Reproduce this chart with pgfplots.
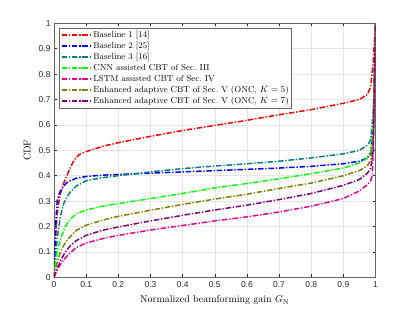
\documentclass[border=0pt]{standalone}
\usepackage{fontspec}
\usepackage{pgfplots}
\pgfplotsset{compat=1.18}
\newfontfamily\tickfont{Liberation Sans}
\definecolor{cteal}{rgb}{0,0.5,0.5}
\definecolor{colive}{rgb}{0.5,0.5,0}
\definecolor{cpurple}{rgb}{0.5,0,0.5}
\definecolor{axgray}{rgb}{0.15,0.15,0.15}
\tikzset{dd/.style={line width=1.5pt, dash pattern=on 5.5pt off 1.8pt on 1.3pt off 1.8pt}}
\begin{document}
\begin{tikzpicture}
\begin{axis}[
  name=ax,
  scale only axis,
  width=321.5bp, height=254bp,
  xmin=0, xmax=1, ymin=0, ymax=1,
  xtick={0,0.1,...,1.01}, ytick={0,0.1,...,1.01},
  xticklabels={0,0.1,0.2,0.3,0.4,0.5,0.6,0.7,0.8,0.9,1},
  yticklabels={0,0.1,0.2,0.3,0.4,0.5,0.6,0.7,0.8,0.9,1},
  ticklabel style={font=\tickfont\fontsize{8.5}{10}\selectfont, text=axgray},
  /pgf/number format/assume math mode=true,
  grid=major,
  major grid style={draw=black!10, line width=0.4pt},
  axis line style={draw=axgray!70, line width=0.5pt},
  tick style={draw=axgray, line width=0.5pt},
  tick align=inside,
  major tick length=3bp,
  xlabel={Normalized beamforming gain $G_{\mathrm{N}}$},
  ylabel={CDF},
  label style={font=\fontsize{10}{12}\selectfont},
  every axis x label/.style={at={(ticklabel cs:0.5)}, anchor=north, yshift=-1bp},
  every axis y label/.style={at={(ticklabel cs:0.5)}, anchor=south, rotate=90, yshift=1bp},
  xticklabel style={yshift=-1bp},
  legend style={at={(0.0155,0.9815)}, anchor=north west, draw=black!60,
    font=\fontsize{8.7}{10.3}\selectfont, inner xsep=1.5pt, inner ysep=1.5bp, row sep=0pt,
    nodes={inner sep=1bp, text height=6.8bp, text depth=2.2bp}},
  legend cell align=left,
  legend image code/.code={\draw[#1, line width=1.9bp, dash pattern=on 5.5pt off 1.8pt on 1.3pt off 1.8pt] (0cm,0cm) -- (1.05cm,0cm);},
  every axis plot/.append style={dd},
]
\addplot[draw=red] coordinates {(0,0) (0.004,0.12) (0.008,0.22) (0.013,0.28) (0.02,0.33) (0.03,0.37) (0.04,0.40) (0.05,0.43) (0.06,0.455) (0.07,0.473) (0.08,0.484) (0.1,0.495) (0.15,0.515) (0.2,0.53) (0.3,0.555) (0.4,0.578) (0.5,0.598) (0.6,0.618) (0.7,0.64) (0.8,0.66) (0.9,0.685) (0.95,0.70) (0.975,0.72) (0.985,0.75) (0.993,0.85) (1,1)};
\addlegendentry{Baseline 1 [14]}
\addplot[draw=blue] coordinates {(0,0) (0.003,0.12) (0.006,0.23) (0.01,0.30) (0.015,0.325) (0.02,0.34) (0.03,0.36) (0.04,0.372) (0.05,0.38) (0.07,0.39) (0.1,0.397) (0.15,0.402) (0.2,0.405) (0.3,0.41) (0.4,0.415) (0.5,0.42) (0.6,0.425) (0.7,0.43) (0.8,0.437) (0.9,0.447) (0.95,0.457) (0.975,0.47) (0.985,0.49) (0.993,0.6) (1,1)};
\addlegendentry{Baseline 2 [25]}
\addplot[draw=cteal] coordinates {(0,0) (0.005,0.08) (0.01,0.15) (0.015,0.2) (0.02,0.24) (0.03,0.29) (0.04,0.315) (0.05,0.335) (0.07,0.36) (0.1,0.38) (0.15,0.392) (0.2,0.40) (0.3,0.415) (0.4,0.428) (0.5,0.438) (0.6,0.447) (0.7,0.457) (0.8,0.47) (0.9,0.486) (0.95,0.50) (0.975,0.52) (0.985,0.54) (0.993,0.65) (1,1)};
\addlegendentry{Baseline 3 [16]}
\addplot[draw=green] coordinates {(0,0) (0.005,0.06) (0.01,0.1) (0.02,0.15) (0.03,0.185) (0.04,0.21) (0.05,0.228) (0.07,0.25) (0.1,0.265) (0.15,0.28) (0.2,0.29) (0.3,0.31) (0.4,0.33) (0.5,0.352) (0.6,0.369) (0.7,0.388) (0.8,0.408) (0.9,0.43) (0.95,0.45) (0.975,0.47) (0.985,0.49) (0.993,0.6) (1,1)};
\addlegendentry{CNN assisted CBT of Sec.~III}
\addplot[draw=magenta] coordinates {(0,0) (0.005,0.015) (0.01,0.03) (0.02,0.05) (0.03,0.068) (0.04,0.083) (0.05,0.096) (0.07,0.117) (0.1,0.135) (0.15,0.152) (0.2,0.165) (0.3,0.186) (0.4,0.204) (0.5,0.222) (0.6,0.238) (0.7,0.257) (0.8,0.28) (0.9,0.31) (0.95,0.34) (0.975,0.365) (0.985,0.38) (0.99,0.4) (0.995,0.6) (1,1)};
\addlegendentry{LSTM assisted CBT of Sec.~IV}
\addplot[draw=colive] coordinates {(0,0) (0.005,0.035) (0.01,0.06) (0.02,0.1) (0.03,0.125) (0.04,0.145) (0.05,0.16) (0.07,0.185) (0.1,0.205) (0.15,0.225) (0.2,0.24) (0.3,0.264) (0.4,0.287) (0.5,0.308) (0.6,0.327) (0.7,0.35) (0.8,0.371) (0.9,0.40) (0.95,0.42) (0.975,0.44) (0.985,0.46) (0.993,0.55) (1,1)};
\addlegendentry{Enhanced adaptive CBT of Sec.~V (ONC, $K=5$)}
\addplot[draw=cpurple] coordinates {(0,0) (0.005,0.02) (0.01,0.035) (0.02,0.065) (0.03,0.088) (0.04,0.108) (0.05,0.123) (0.07,0.145) (0.1,0.165) (0.15,0.185) (0.2,0.198) (0.3,0.222) (0.4,0.244) (0.5,0.265) (0.6,0.284) (0.7,0.306) (0.8,0.33) (0.9,0.362) (0.95,0.385) (0.975,0.41) (0.985,0.43) (0.993,0.5) (1,1)};
\addlegendentry{Enhanced adaptive CBT of Sec.~V (ONC, $K=7$)}
\end{axis}
\path ([shift={(-54bp,-34.7bp)}]ax.south west) rectangle ([shift={(39.5bp,23.3bp)}]ax.north east);
\end{tikzpicture}
\end{document}
